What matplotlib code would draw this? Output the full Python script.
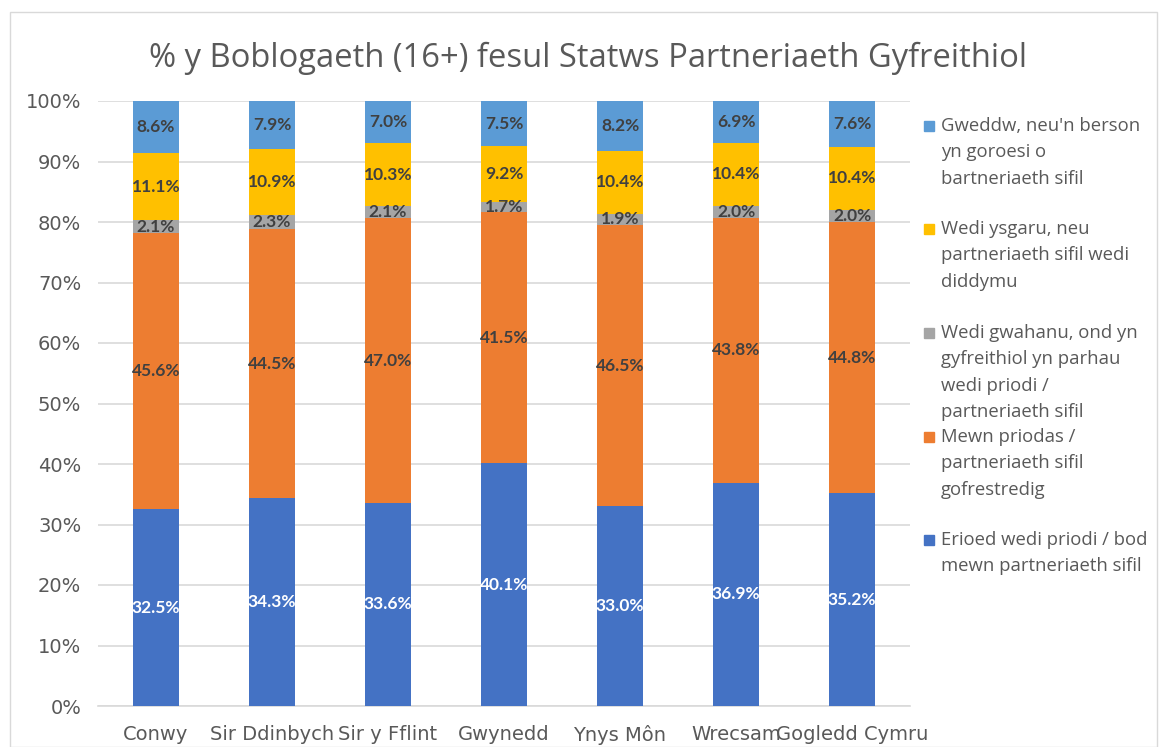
import matplotlib
matplotlib.use("Agg")
import matplotlib.pyplot as plt
from matplotlib.patches import Rectangle
import numpy as np

categories = ["Conwy", "Sir Ddinbych", "Sir y Fflint", "Gwynedd", "Ynys Môn", "Wrecsam", "Gogledd Cymru"]
never_married = [32.5, 34.3, 33.6, 40.1, 33.0, 36.9, 35.2]
married = [45.6, 44.5, 47.0, 41.5, 46.5, 43.8, 44.8]
separated = [2.1, 2.3, 2.1, 1.7, 1.9, 2.0, 2.0]
divorced = [11.1, 10.9, 10.3, 9.2, 10.4, 10.4, 10.4]
widowed = [8.6, 7.9, 7.0, 7.5, 8.2, 6.9, 7.6]

series_names = [
    "Erioed wedi priodi / bod\nmewn partneriaeth sifil",
    "Mewn priodas /\npartneriaeth sifil\ngofrestredig",
    "Wedi gwahanu, ond yn\ngyfreithiol yn parhau\nwedi priodi /\npartneriaeth sifil",
    "Wedi ysgaru, neu\npartneriaeth sifil wedi\ndiddymu",
    "Gweddw, neu'n berson\nyn goroesi o\nbartneriaeth sifil",
]
colors = ["#4472C4", "#ED7D31", "#A5A5A5", "#FFC000", "#5B9BD5"]
label_colors = ["white", "#404040", "#404040", "#404040", "#404040"]
title = "% y Boblogaeth (16+) fesul Statws Partneriaeth Gyfreithiol"

plt.rcParams['font.family'] = ['DejaVu Sans']

W, H = 1159, 747
fig = plt.figure(figsize=(W/100, H/100), dpi=100)
ax = fig.add_axes([98/W, 1-706/H, (910-98)/W, (706-101)/H])

data = np.array([never_married, married, separated, divorced, widowed])
totals = data.sum(axis=0)
norm = data / totals * 100
x = np.arange(len(categories))
bottom = np.zeros(len(categories))
for i in range(len(data)):
    ax.bar(x, norm[i], bottom=bottom, width=0.4, color=colors[i], zorder=3)
    for j in range(len(categories)):
        ax.text(x[j], bottom[j] + norm[i][j]/2, f"{data[i][j]:.1f}%", ha='center', va='center',
                color=label_colors[i], fontsize=12.5, fontweight='bold', zorder=4,
                family=['Lato', 'DejaVu Sans'])
    bottom += norm[i]

ax.set_xlim(-0.5, len(categories)-0.5)
ax.set_ylim(0, 100)
ax.set_yticks(np.arange(0, 101, 10))
ax.set_yticklabels([f"{v}%" for v in range(0, 101, 10)])
ax.set_xticks(x)
ax.set_xticklabels(categories)
ax.tick_params(axis='both', length=0, colors='#595959', labelsize=14)
ax.tick_params(axis='x', pad=14)
ax.tick_params(axis='y', pad=12)
ax.yaxis.grid(True, color='#D9D9D9', linewidth=1.2, zorder=0)
for s in ['top', 'right', 'left']:
    ax.spines[s].set_visible(False)
ax.spines['bottom'].set_color('#D9D9D9')
ax.spines['bottom'].set_linewidth(1.2)

fig.text(588/W, 1-58/H, title, ha='center', va='center', fontsize=23.6, color='#595959',
         family=['Open Sans', 'DejaVu Sans'])

# legend
legend_y = [126, 229, 333, 437, 540]
order = [4, 3, 2, 1, 0]
for k, idx in enumerate(order):
    y = legend_y[k]
    fig.patches.append(Rectangle((924/W, 1-(y+5)/H), 10/W, 10/H, transform=fig.transFigure,
                                 color=colors[idx], figure=fig))
    fig.text(941/W, 1-(y-9)/H, series_names[idx], ha='left', va='top', fontsize=13.3,
             color='#595959', linespacing=1.6, family=['Open Sans', 'DejaVu Sans'])

fig.patches.append(Rectangle((10/W, 0.0), (W-12)/W, (H-12)/H, transform=fig.transFigure,
                             fill=False, edgecolor='#D9D9D9', linewidth=1, figure=fig))

fig.savefig("out.png", dpi=100)
